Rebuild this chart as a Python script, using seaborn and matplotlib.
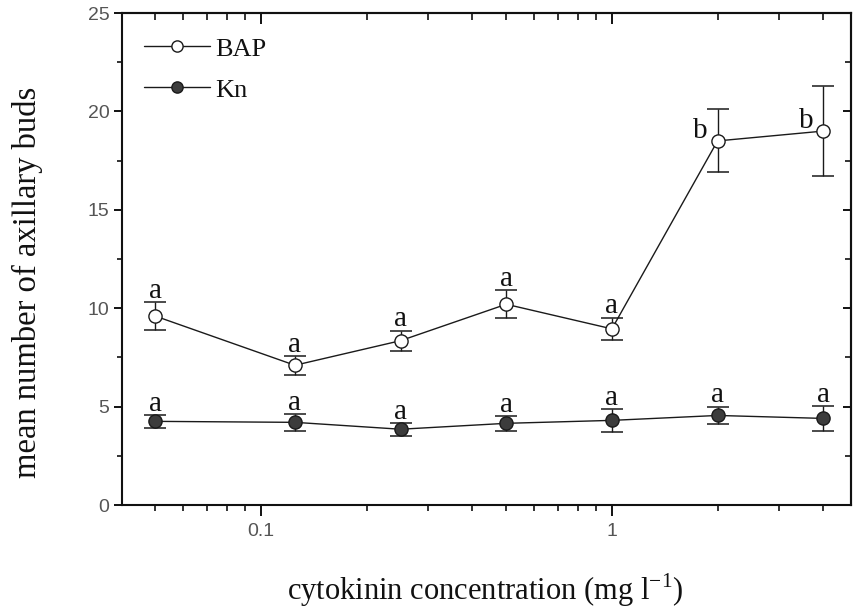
import numpy as np
import pandas as pd
import matplotlib
matplotlib.use("Agg")
import matplotlib.pyplot as plt
import seaborn as sns
from matplotlib.ticker import FixedLocator, NullFormatter, FixedFormatter, MultipleLocator

# ---- data ----
conc = [0.05, 0.125, 0.25, 0.5, 1, 2, 4]
bap_mean = [9.6, 7.1, 8.35, 10.2, 8.95, 18.5, 19.0]
bap_err = [0.7, 0.48, 0.51, 0.7, 0.57, 1.6, 2.3]
kn_mean = [4.25, 4.2, 3.85, 4.15, 4.3, 4.55, 4.4]
kn_err = [0.33, 0.42, 0.32, 0.37, 0.58, 0.45, 0.63]
bap_letters = ["a", "a", "a", "a", "a", "b", "b"]
kn_letters = ["a", "a", "a", "a", "a", "a", "a"]
x_major = [0.1, 1]
x_major_labels = ["0.1", "1"]
x_minor = [0.05, 0.06, 0.07, 0.08, 0.09, 0.2, 0.3, 0.4, 0.5, 0.6, 0.7, 0.8, 0.9, 2, 3, 4]
y_major = [0, 5, 10, 15, 20, 25]

sns.set_style("ticks")
plt.rcParams["font.family"] = ["Liberation Serif", "DejaVu Serif"]

df = pd.DataFrame({
    "conc": conc * 2,
    "mean": bap_mean + kn_mean,
    "err": bap_err + kn_err,
    "treatment": ["BAP"] * len(conc) + ["Kn"] * len(conc),
})

fig = plt.figure(figsize=(8.58, 6.09), dpi=100)
ax = fig.add_axes([122 / 858, 1 - 505 / 609, (851 - 122) / 858, (505 - 13) / 609])

line_col = "#1a1a1a"
fill_dark = "#3c3c3c"
styles = {
    "BAP": dict(markerfacecolor="white"),
    "Kn": dict(markerfacecolor=fill_dark),
}
for name in ["BAP", "Kn"]:
    sub = df[df.treatment == name]
    ax.errorbar(sub["conc"], sub["mean"], yerr=sub["err"], fmt="none",
                ecolor=line_col, elinewidth=1.0, capsize=8, capthick=1.1, zorder=2)
    sns.lineplot(data=sub, x="conc", y="mean", ax=ax, color=line_col, lw=1.0,
                 marker="o", markersize=9.5, markeredgecolor=line_col,
                 markeredgewidth=1.0, label=name, zorder=3, **styles[name])

# significance letters
for xv, m, e, t in zip(conc, bap_mean, bap_err, bap_letters):
    if t == "a":
        ax.annotate(t, (xv, m + e), xytext=(0, 3), textcoords="offset points",
                    ha="center", va="baseline", fontsize=21, color="#111")
    else:
        ax.annotate(t, (xv, m), xytext=(-7, 2), textcoords="offset points",
                    ha="right", va="baseline", fontsize=21, color="#111")
for xv, m, e, t in zip(conc, kn_mean, kn_err, kn_letters):
    ax.annotate(t, (xv, m + e), xytext=(0, 3), textcoords="offset points",
                ha="center", va="baseline", fontsize=21, color="#111")

ax.set_xscale("log")
ax.set_xlim(0.0402, 4.8)
ax.set_ylim(0, 25)

ax.xaxis.set_major_locator(FixedLocator(x_major))
ax.xaxis.set_major_formatter(FixedFormatter(x_major_labels))
ax.xaxis.set_minor_locator(FixedLocator(x_minor))
ax.xaxis.set_minor_formatter(NullFormatter())
ax.yaxis.set_major_locator(FixedLocator(y_major))
ax.yaxis.set_minor_locator(MultipleLocator(2.5))

for sp in ax.spines.values():
    sp.set_linewidth(1.5)
    sp.set_color("#111")
    sp.set_visible(True)

ax.tick_params(axis="x", which="major", direction="out", length=8, width=1.4,
               color="#111", labelsize=14, labelcolor="#555555", pad=5)
ax.tick_params(axis="x", which="minor", direction="out", length=4.5, width=1.2, color="#111")
ax.tick_params(axis="y", which="major", direction="out", length=6, width=1.4,
               color="#111", labelsize=14, labelcolor="#555555", pad=3)
ax.tick_params(axis="y", which="minor", direction="out", length=3.5, width=1.2, color="#111")
for lab in ax.get_xticklabels() + ax.get_yticklabels():
    lab.set_fontfamily(["Liberation Sans", "DejaVu Sans"])

# inward ticks on top and right
top = ax.secondary_xaxis("top")
top.xaxis.set_major_locator(FixedLocator(x_major))
top.xaxis.set_minor_locator(FixedLocator(x_minor))
top.xaxis.set_major_formatter(NullFormatter())
top.xaxis.set_minor_formatter(NullFormatter())
top.tick_params(which="major", direction="in", length=8, width=1.4, color="#111")
top.tick_params(which="minor", direction="in", length=5, width=1.2, color="#111")
top.spines["top"].set_linewidth(1.5)

right = ax.secondary_yaxis("right")
right.yaxis.set_major_locator(FixedLocator(y_major))
right.yaxis.set_minor_locator(MultipleLocator(2.5))
right.yaxis.set_major_formatter(NullFormatter())
right.tick_params(which="major", direction="in", length=6, width=1.4, color="#111")
right.tick_params(which="minor", direction="in", length=4, width=1.2, color="#111")
right.spines["right"].set_linewidth(1.5)

ax.set_xlabel("cytokinin concentration (mg l$^{\\mathregular{-1}}$)", fontsize=22, color="#111")
ax.set_ylabel("mean number of axillary buds", fontsize=23.5, color="#111")
ax.xaxis.set_label_coords(0.498, -0.173)
ax.xaxis.label.set_va("center")
ax.yaxis.set_label_coords((27 - 122) / 729, (505 - 282) / 492)
ax.yaxis.label.set_va("center")

handles, labels = ax.get_legend_handles_labels()
leg = ax.legend(handles, labels, loc="upper left", bbox_to_anchor=(0.03, 0.951),
                frameon=False, fontsize=19, handlelength=2.5, handletextpad=0.2,
                labelspacing=0.67, borderpad=0, borderaxespad=0, markerscale=0.85)
for t in leg.get_texts():
    t.set_color("#111")

fig.savefig("out.png", dpi=100)
